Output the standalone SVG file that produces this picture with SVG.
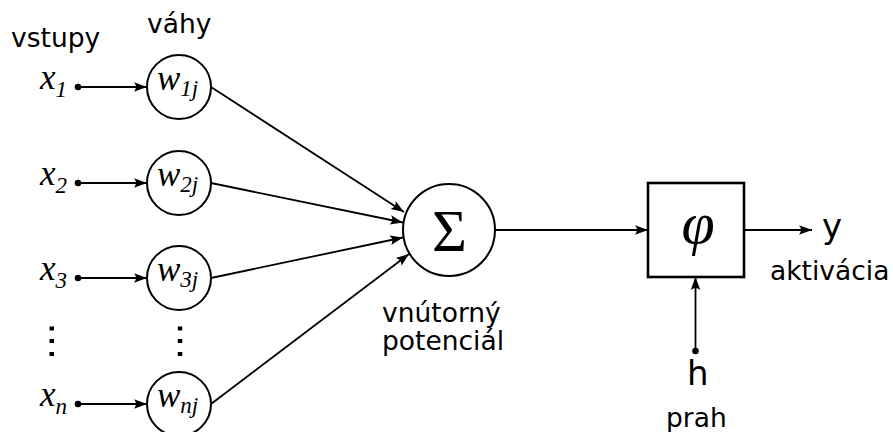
<svg xmlns="http://www.w3.org/2000/svg" width="893" height="432" viewBox="0 0 893 432">
<style>
.lbl{font-family:"DejaVu Sans","Liberation Sans",sans-serif;font-size:26.5px;fill:#000}
.big{font-family:"DejaVu Sans","Liberation Sans",sans-serif;font-size:34px;fill:#000}
.math{font-family:"Liberation Serif","Times New Roman",serif;font-style:italic;font-size:35px;fill:#000}
.sub{font-size:23px}
.node{fill:#fff;stroke:#000;stroke-width:2}
.edge{fill:none;stroke:#000;stroke-width:1.8}
.dot{fill:#000}
</style>
<defs>
<marker id="arr" viewBox="-14 -6 15 12" refX="0" refY="0" markerUnits="userSpaceOnUse" markerWidth="15" markerHeight="12" orient="auto">
<path d="M0,0 L-13,-4.8 Q-9,0 -13,4.8 Z" fill="#000"/>
</marker>
</defs>
<rect width="893" height="432" fill="#fff"/>
<text class="lbl" x="11" y="47">vstupy</text>
<text class="lbl" x="147" y="33">váhy</text>
<g id="connectors">
<path class="edge" d="M78,87 L147,87" marker-end="url(#arr)"/>
<path class="edge" d="M78,183 L147,183" marker-end="url(#arr)"/>
<path class="edge" d="M78,278 L147,278" marker-end="url(#arr)"/>
<path class="edge" d="M78,404 L147,404" marker-end="url(#arr)"/>
<path class="edge" d="M211,87 L404,212" marker-end="url(#arr)"/>
<path class="edge" d="M211,183 L403,222.5" marker-end="url(#arr)"/>
<path class="edge" d="M211,278 L403,237.5" marker-end="url(#arr)"/>
<path class="edge" d="M211,404 L409,254" marker-end="url(#arr)"/>
<path class="edge" d="M495,230 L648,230" marker-end="url(#arr)"/>
<path class="edge" d="M744,230 L812,230" marker-end="url(#arr)"/>
<path class="edge" d="M695.5,351 L695.5,277" marker-end="url(#arr)"/>
<circle class="dot" cx="78" cy="87" r="3.3"/>
<circle class="dot" cx="78" cy="183" r="3.3"/>
<circle class="dot" cx="78" cy="278" r="3.3"/>
<circle class="dot" cx="78" cy="404" r="3.3"/>
<circle class="dot" cx="695.5" cy="351" r="3.3"/>
</g>
<g id="x1"><text class="math" x="40" y="89">x<tspan class="sub" dy="8">1</tspan></text></g>
<g id="x2"><text class="math" x="40" y="185">x<tspan class="sub" dy="8">2</tspan></text></g>
<g id="x3"><text class="math" x="40" y="280">x<tspan class="sub" dy="8">3</tspan></text></g>
<g id="xn"><text class="math" x="40" y="406">x<tspan class="sub" dy="8">n</tspan></text></g>
<g id="dots-x"><rect x="49.5" y="326.5" width="4.5" height="4"/><rect x="49.5" y="339" width="4.5" height="4"/><rect x="49.5" y="352" width="4.5" height="4"/></g>
<g id="dots-w"><rect x="177.8" y="326.5" width="4.5" height="4"/><rect x="177.8" y="339" width="4.5" height="4"/><rect x="177.8" y="352" width="4.5" height="4"/></g>
<g id="w1"><circle class="node" cx="179" cy="87" r="32"/><text class="math" x="157" y="90">w<tspan class="sub" dy="6">1j</tspan></text></g>
<g id="w2"><circle class="node" cx="179" cy="183" r="32"/><text class="math" x="157" y="186">w<tspan class="sub" dy="6">2j</tspan></text></g>
<g id="w3"><circle class="node" cx="179" cy="278" r="32"/><text class="math" x="157" y="281">w<tspan class="sub" dy="6">3j</tspan></text></g>
<g id="wn"><circle class="node" cx="179" cy="404" r="32"/><text class="math" x="157" y="407">w<tspan class="sub" dy="6">nj</tspan></text></g>
<g id="sum"><circle class="node" cx="449" cy="230" r="46"/><text x="449.5" y="250.5" text-anchor="middle" style="font-family:'Liberation Serif','Times New Roman',serif;font-size:60px">Σ</text></g>
<g id="sum-label"><text class="lbl" x="382" y="322">vnútorný</text><text class="lbl" x="382" y="350">potenciál</text></g>
<g id="phi"><rect x="648" y="183" width="96" height="94" fill="#fff" stroke="#000" stroke-width="2.6"/><text x="698" y="243" text-anchor="middle" style="font-family:'Liberation Serif','Times New Roman',serif;font-style:italic;font-size:60px">φ</text></g>
<g id="out"><text class="big" x="822" y="238">y</text><text class="lbl" x="770" y="280">aktivácia</text></g>
<g id="thr"><text class="big" x="687" y="385">h</text><text class="lbl" x="666" y="427">prah</text></g>
</svg>
